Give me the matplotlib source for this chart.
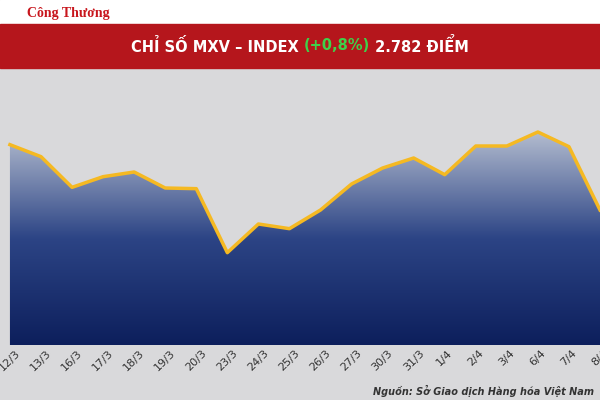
import matplotlib
matplotlib.use("Agg")
import matplotlib.pyplot as plt
import numpy as np
from matplotlib.colors import LinearSegmentedColormap

dates = ["12/3","13/3","16/3","17/3","18/3","19/3","20/3","23/3","24/3","25/3","26/3",
         "27/3","30/3","31/3","1/4","2/4","3/4","6/4","7/4","8/4"]
values = [2880,2862,2816,2832,2839,2815,2814,2718,2761,2754,2782,
          2821,2845,2860,2835,2878,2878,2899,2877,2782]

fig = plt.figure(figsize=(6,4), dpi=100)
fig.patch.set_facecolor("#d9d9db")
fig.patches.append(plt.Rectangle((0,0.94),1,0.06,transform=fig.transFigure,color="white"))
fig.text(0.045,0.965,"Công Thương",color="#c8161d",fontsize=10,fontweight="bold",
         family="Liberation Serif",va="center")
fig.patches.append(plt.Rectangle((0,0.83),1,0.11,transform=fig.transFigure,color="#b5161c"))

parts = [("CHỈ SỐ MXV – INDEX ","white"),("(+0,8%)","#3fd14a"),(" 2.782 ĐIỂM","white")]
fig.canvas.draw()
r = fig.canvas.get_renderer()
texts = []
widths = []
for s,c in parts:
    t = fig.text(0,0.885,s,color=c,fontsize=10.5,fontweight="bold",va="center")
    widths.append(t.get_window_extent(r).width/fig.bbox.width)
    texts.append(t)
xpos = 0.5 - sum(widths)/2
for t,w in zip(texts,widths):
    t.set_x(xpos); xpos += w

ax = fig.add_axes([0,0.1375,1,0.6375])
ax.set_facecolor("none")
x = np.arange(len(dates))
ax.set_xlim(-0.32,19)
ax.set_ylim(2579.5,2962)
cmap = LinearSegmentedColormap.from_list("g",["#0d1f5c","#2c4485","#b3bccf"])
grad = np.linspace(0,1,256).reshape(-1,1)
im = ax.imshow(grad,extent=[-0.32,19,2579.5,max(values)],origin="lower",aspect="auto",cmap=cmap,zorder=1)
poly = ax.fill_between(x,values,2579.5,color="none")
im.set_clip_path(poly.get_paths()[0],transform=ax.transData)
ax.plot(x,values,color="#f5b922",lw=2.5,zorder=3)
for s in ax.spines.values(): s.set_visible(False)
ax.set_yticks([])
ax.set_xticks(x)
ax.set_xticklabels(dates,rotation=45,ha="center",fontsize=8,color="#333")
ax.tick_params(axis="x",length=0,pad=2)
fig.text(0.99,0.012,"Nguồn: Sở Giao dịch Hàng hóa Việt Nam",fontsize=7,style="italic",
         fontweight="bold",color="#333",ha="right")
fig.savefig("out.png",dpi=100)
